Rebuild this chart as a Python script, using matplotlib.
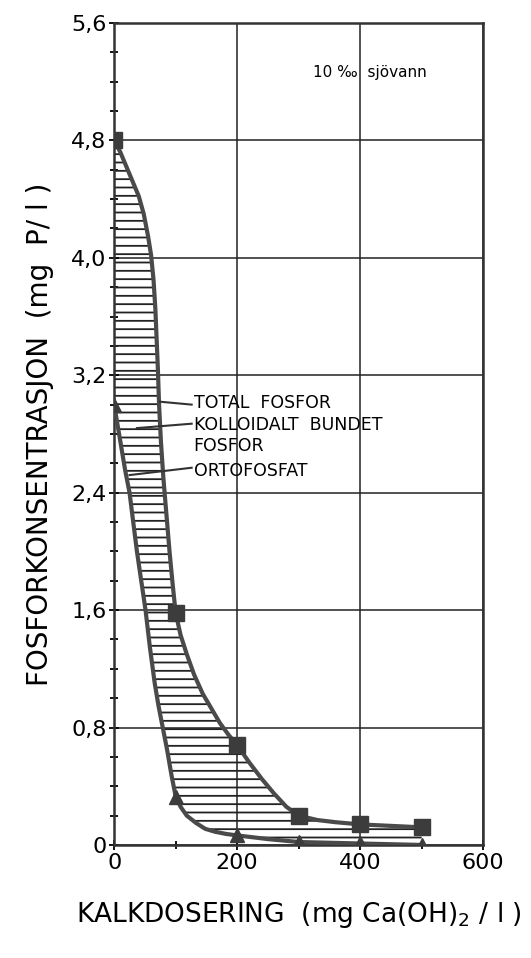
import matplotlib
matplotlib.use("Agg")
import matplotlib.pyplot as plt

plt.rcParams['font.family'] = ['DejaVu Sans']
plt.rcParams['hatch.linewidth'] = 1.3

# Measured points (kalkdosering mg Ca(OH)2/l, mg P/l)
dose = [0, 100, 200, 300, 400, 500]
total_p = [4.8, 1.58, 0.68, 0.2, 0.14, 0.12]
orto_p = [3.0, 0.33, 0.07, 0.02, 0.01, 0.0]

# Hand-drawn curves
total_curve_x = [0, 10, 20, 30, 40, 48, 55, 60, 64, 67, 69, 71, 73, 76, 80, 85, 90, 95, 100,
                 108, 118, 130, 144, 158, 172, 186, 200, 220, 240, 260, 280, 300, 330, 360, 400, 450, 500]
total_curve_y = [4.8, 4.72, 4.62, 4.52, 4.42, 4.3, 4.15, 4.02, 3.85, 3.65, 3.45, 3.25, 3.0, 2.75, 2.5, 2.25, 2.0, 1.78, 1.58,
                 1.43, 1.3, 1.16, 1.03, 0.93, 0.83, 0.75, 0.68, 0.56, 0.45, 0.35, 0.26, 0.2, 0.17, 0.155, 0.14, 0.13, 0.12]
orto_curve_x = [0, 6, 12, 18, 25, 31, 37, 44, 51, 58, 66, 72, 79, 86, 93, 100,
                108, 118, 133, 148, 164, 182, 200, 250, 300, 400, 500]
orto_curve_y = [3.0, 2.85, 2.7, 2.55, 2.4, 2.2, 2.0, 1.8, 1.6, 1.35, 1.1, 0.95, 0.8, 0.65, 0.48, 0.33,
                0.26, 0.2, 0.15, 0.11, 0.09, 0.075, 0.065, 0.04, 0.02, 0.01, 0.0]

y_ticks = [0, 0.8, 1.6, 2.4, 3.2, 4.0, 4.8, 5.6]
y_labels = ['0', '0,8', '1,6', '2,4', '3,2', '4,0', '4,8', '5,6']
x_ticks = [0, 200, 400, 600]

labels = ['TOTAL  FOSFOR', 'KOLLOIDALT  BUNDET', 'FOSFOR', 'ORTOFOSFAT']
label_y = [3.01, 2.86, 2.72, 2.55]
leaders = [((74, 3.02), (126, 3.0)), ((37, 2.84), (126, 2.87)), ((25, 2.52), (126, 2.57))]

line_col = '#4a4a4a'

fig = plt.figure(figsize=(5.31, 9.58), dpi=100)
ax = fig.add_axes([0.215, 0.118, 0.695, 0.858])

# hatched area between the two curves
poly_x = total_curve_x + orto_curve_x[::-1]
poly_y = total_curve_y + orto_curve_y[::-1]
ax.fill(poly_x, poly_y, facecolor='none', edgecolor='#222222', hatch='--', linewidth=0, zorder=2)

ax.plot(total_curve_x, total_curve_y, color=line_col, lw=3, zorder=3)
ax.plot(orto_curve_x, orto_curve_y, color=line_col, lw=3, zorder=3)
ax.plot(dose, total_p, 's', color='#3c3c3c', ms=12, zorder=4)
ax.plot(dose, orto_p, '^', color='#3c3c3c', ms=10, zorder=4)

for txt, ty in zip(labels, label_y):
    ax.text(129, ty, txt, fontsize=12.5, va='center', ha='left', zorder=5)
for (x0, y0), (x1, y1) in leaders:
    ax.plot([x0, x1], [y0, y1], color='#333333', lw=1.5, zorder=5)

ax.text(415, 5.26, '10 ‰  sjövann', fontsize=11, ha='center', va='center')

ax.set_xlim(0, 600)
ax.set_ylim(0, 5.6)
ax.set_xticks(x_ticks)
ax.set_xticks([100, 300, 500], minor=True)
ax.set_yticks(y_ticks)
ax.set_yticklabels(y_labels)
ax.set_yticks([v / 10 for v in range(2, 56, 2) if v % 8 != 0], minor=True)
ax.tick_params(axis='both', which='major', labelsize=16, length=7, width=1.3, direction='inout', pad=2)
ax.tick_params(axis='both', which='minor', length=6, width=1.3, direction='inout')
ax.grid(True, which='major', color='#222222', lw=1.1)
for s in ax.spines.values():
    s.set_linewidth(1.8)
    s.set_color('#333333')

ax.set_ylabel('FOSFORKONSENTRASJON  (mg  P/ l )', fontsize=20, labelpad=12)
ax.set_xlabel('KALKDOSERING  (mg Ca(OH)$_2$ / l )', fontsize=19, labelpad=20)

fig.savefig('out.png', dpi=100)
